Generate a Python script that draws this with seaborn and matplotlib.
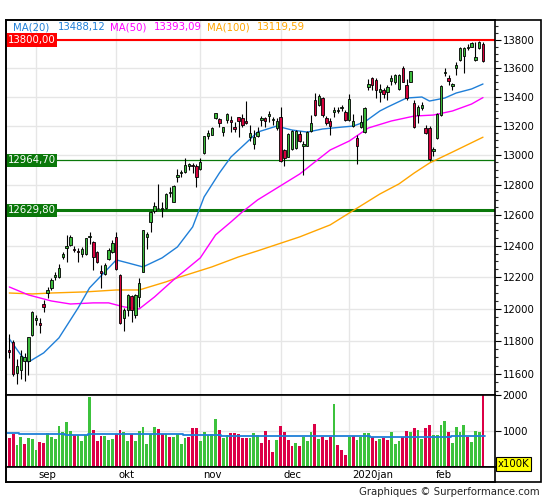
import numpy as np
import pandas as pd
import matplotlib
matplotlib.use("Agg")
import matplotlib.pyplot as plt
import matplotlib.transforms as mtransforms
from matplotlib.patches import Rectangle
from matplotlib.ticker import FixedLocator, NullFormatter, FuncFormatter
import seaborn as sns

# ---------------- data ----------------
opens = [11745, 11794, 11605, 11627, 11680, 11680, 11838, 11929, 11910, 12028,
         12102, 12133, 12199, 12200, 12330, 12388, 12405, 12379, 12368, 12346,
         12346, 12455, 12422, 12362, 12238, 12218, 12315, 12358, 12459, 12213,
         11945, 11993, 12083, 11962, 12073, 12234, 12457, 12556, 12628, 12643,
         12640, 12643, 12742, 12688, 12850, 12880, 12887, 12925, 12934, 12928,
         12902, 13010, 13128, 13137, 13249, 13243, 13157, 13238, 13238, 13192,
         13256, 13249, 13231, 13119, 13074, 13131, 13238, 13254, 13268, 13238,
         13180, 13258, 13033, 12988, 13040, 13044, 13144, 13062, 13062, 13162,
         13376, 13341, 13392, 13254, 13231, 13295, 13300, 13318, 13291, 13238,
         13199, 13112, 13192, 13153, 13465, 13528, 13516, 13430, 13446, 13430,
         13509, 13504, 13454, 13604, 13480, 13504, 13355, 13274, 13318, 13180,
         13185, 13027, 13112, 13272, 13565, 13530, 13475, 13599, 13657, 13688,
         13742, 13752, 13657, 13740, 13769]
highs = [11842, 11808, 11690, 11746, 11726, 11826, 11985, 11962, 11945, 12056,
         12137, 12192, 12234, 12281, 12362, 12470, 12470, 12397, 12388, 12392,
         12453, 12487, 12431, 12365, 12277, 12288, 12384, 12438, 12491, 12217,
         12004, 12091, 12087, 12090, 12192, 12505, 12491, 12625, 12688, 12803,
         12688, 12742, 12782, 12798, 12902, 12898, 12976, 12947, 12947, 12938,
         12976, 13130, 13169, 13187, 13288, 13249, 13192, 13288, 13265, 13224,
         13260, 13279, 13371, 13203, 13169, 13192, 13267, 13260, 13300, 13260,
         13249, 13330, 13040, 13146, 13169, 13169, 13162, 13094, 13160, 13272,
         13423, 13416, 13395, 13267, 13249, 13330, 13330, 13341, 13307, 13416,
         13277, 13135, 13272, 13330, 13523, 13539, 13527, 13485, 13458, 13481,
         13551, 13556, 13556, 13612, 13520, 13581, 13376, 13341, 13360, 13206,
         13199, 13056, 13284, 13481, 13604, 13551, 13493, 13645, 13747, 13747,
         13769, 13788, 13783, 13793, 13788]
lows = [11696, 11590, 11539, 11571, 11560, 11595, 11834, 11900, 11852, 11982,
        12070, 12118, 12182, 12195, 12313, 12294, 12401, 12358, 12294, 12326,
        12340, 12411, 12245, 12290, 12129, 12213, 12309, 12352, 12245, 11904,
        11863, 11958, 11920, 11940, 12014, 12230, 12378, 12491, 12615, 12637,
        12589, 12637, 12721, 12685, 12820, 12850, 12880, 12898, 12880, 12782,
        12898, 13006, 13105, 13133, 13243, 13187, 13128, 13215, 13157, 13157,
        13123, 13192, 13208, 13096, 13038, 13124, 13199, 13192, 13226, 13203,
        13169, 12950, 12927, 12985, 13035, 13040, 13087, 12865, 13058, 13153,
        13267, 13336, 13260, 13203, 13135, 13260, 13284, 13300, 13231, 13231,
        13192, 12937, 13185, 13146, 13446, 13446, 13388, 13365, 13388, 13376,
        13481, 13486, 13446, 13500, 13376, 13500, 13185, 13215, 13307, 13140,
        12958, 12995, 13105, 13267, 13546, 13481, 13446, 13551, 13650, 13562,
        13728, 13747, 13650, 13735, 13645]
closes = [11733, 11599, 11649, 11712, 11702, 11824, 11979, 11941, 11900, 12012,
          12116, 12182, 12213, 12256, 12345, 12400, 12457, 12373, 12358, 12379,
          12449, 12460, 12330, 12294, 12224, 12277, 12373, 12416, 12251, 11910,
          11993, 12087, 11993, 12087, 12160, 12502, 12476, 12622, 12659, 12646,
          12644, 12738, 12754, 12791, 12865, 12886, 12932, 12938, 12925, 12854,
          12953, 13128, 13146, 13180, 13284, 13220, 13192, 13279, 13222, 13174,
          13233, 13203, 13215, 13151, 13124, 13157, 13254, 13231, 13276, 13245,
          13231, 12958, 12981, 13140, 13162, 13162, 13094, 13071, 13153, 13215,
          13272, 13406, 13272, 13215, 13199, 13307, 13302, 13330, 13238, 13383,
          13231, 13060, 13226, 13318, 13486, 13481, 13446, 13453, 13416, 13470,
          13530, 13548, 13548, 13504, 13390, 13576, 13192, 13326, 13341, 13146,
          12972, 13040, 13277, 13477, 13572, 13509, 13486, 13622, 13742, 13742,
          13752, 13776, 13680, 13788, 13650]
volumes = [806, 926, 611, 833, 639, 806, 778, 472, 694, 667,
           944, 833, 778, 1139, 972, 1250, 1000, 880, 880, 722,
           880, 1944, 1028, 722, 861, 861, 750, 778, 907, 1028,
           972, 722, 907, 722, 1000, 1111, 639, 907, 1111, 1056,
           907, 907, 833, 833, 907, 639, 806, 833, 1083, 1083,
           722, 972, 880, 917, 1333, 1028, 806, 889, 944, 944,
           917, 806, 806, 806, 944, 880, 667, 1000, 750, 417,
           750, 1139, 972, 750, 583, 667, 583, 833, 722, 972,
           1194, 778, 833, 750, 833, 1750, 611, 472, 333, 833,
           861, 750, 833, 944, 944, 833, 722, 778, 806, 750,
           972, 639, 722, 833, 1000, 972, 1083, 1028, 778, 1083,
           1167, 889, 889, 1167, 1278, 972, 667, 1111, 972, 1167,
           833, 694, 1000, 972, 2050]
vol_up = [0, 0, 1, 1, 0, 1, 1, 1, 0, 0,
          1, 1, 1, 1, 1, 1, 1, 0, 1, 1,
          1, 1, 0, 0, 0, 1, 1, 1, 0, 0,
          1, 1, 0, 1, 1, 1, 1, 1, 1, 0,
          0, 1, 0, 1, 1, 1, 1, 0, 0, 0,
          1, 1, 1, 1, 1, 0, 1, 1, 0, 0,
          0, 0, 0, 1, 1, 1, 0, 0, 0, 0,
          1, 0, 0, 0, 0, 1, 0, 1, 1, 1,
          0, 1, 0, 0, 0, 1, 0, 0, 0, 1,
          0, 1, 1, 1, 1, 0, 0, 1, 0, 0,
          1, 1, 1, 0, 0, 1, 0, 1, 1, 0,
          0, 1, 1, 1, 1, 0, 1, 1, 1, 1,
          0, 1, 1, 1, 0]

ma20_idx = [0, 3, 5, 9, 13, 18, 21, 25, 28, 31, 35, 40, 44, 48, 51, 55, 58, 62,
            65, 70, 74, 78, 82, 87, 90, 93, 97, 99, 104, 108, 110, 114, 117, 121, 124]
ma20_val = [11814, 11716, 11672, 11728, 11820, 12005, 12131, 12232, 12309, 12290,
            12264, 12322, 12392, 12522, 12719, 12878, 12985, 13081, 13155, 13196,
            13169, 13155, 13176, 13189, 13196, 13224, 13300, 13327, 13390, 13397,
            13369, 13390, 13425, 13453, 13488]
ma50_idx = [0, 5, 11, 16, 22, 26, 30, 34, 38, 43, 50, 54, 58, 61, 65, 76, 80, 84,
            89, 94, 100, 106, 111, 116, 121, 124]
ma50_val = [12137, 12087, 12049, 12030, 12037, 12037, 12012, 11999, 12074, 12182,
            12322, 12470, 12554, 12620, 12699, 12871, 12952, 13033, 13094, 13183,
            13231, 13265, 13272, 13300, 13348, 13393]
ma100_idx = [0, 6, 11, 20, 28, 34, 41, 44, 53, 60, 65, 76, 84, 89, 97, 102, 106,
             110, 116, 124]
ma100_val = [12099, 12093, 12099, 12106, 12118, 12118, 12169, 12195, 12264, 12328,
             12367, 12457, 12535, 12613, 12738, 12805, 12878, 12945, 13019, 13120]

vol_ma_breaks = [0, 3, 15, 21, 46, 56, 75, 95, 116, 125]
vol_ma_levels = [935, 907, 880, 907, 880, 870, 861, 833, 861]

month_idx = [7, 28, 50, 71, 89, 111]
month_labels = ["sep", "okt", "nov", "dec", "2020jan", "feb"]
price_ticks = [11600, 11800, 12000, 12200, 12400, 12600, 12800,
               13000, 13200, 13400, 13600, 13800]
vol_ticks = [1000, 2000]
level_values = [13800.00, 12964.70, 12629.80]
legend_names = ["MA(20)", "MA(50)", "MA(100)"]
legend_values = ["13488,12", "13393,09", "13119,59"]

# ---------------- style ----------------
sns.set_style("white")
plt.rcParams["font.family"] = ["DejaVu Sans"]
FS = 7.3
GREEN = "#3cba3c"
RED = "#d6003c"
VGREEN = "#3cc23c"
VRED = "#dc0046"
BLUE = "#1f7fd8"
MAGENTA = "#ff00ff"
ORANGE = "#ffa500"
DKGREEN = "#0a780a"
GRID = "#e6e6e6"

W, H = 545, 500
fig = plt.figure(figsize=(W / 100, H / 100), dpi=100)


def fx(px):
    return px / W


def fy(py):
    return 1 - py / H


L, R = 6, 495
X0 = 9.3
DX = 3.82
xlim = ((L - X0) / DX, (R - X0) / DX)

ax = fig.add_axes([fx(L), fy(395), (R - L) / W, (395 - 19.5) / H])
axv = fig.add_axes([fx(L), fy(467), (R - L) / W, (467 - 395) / H])
axs = fig.add_axes([fx(L), fy(482), (R - L) / W, (482 - 467) / H])

n = len(closes)
idx = np.arange(n)
o = np.array(opens, float)
c = np.array(closes, float)
h = np.array(highs, float)
lo = np.array(lows, float)

# ---------------- price panel ----------------
ax.set_yscale("log")
for m in month_idx:
    ax.axvline(m, color=GRID, lw=1, zorder=0)
ax.grid(True, axis="y", which="major", color=GRID, lw=1)
ax.set_axisbelow(True)

ax.axhline(level_values[0], color="#ff0000", lw=1.5, zorder=2)
ax.axhline(level_values[1], color=DKGREEN, lw=0.9, zorder=2)
ax.axhline(level_values[2], color=DKGREEN, lw=2.2, zorder=2)

sns.lineplot(x=ma100_idx, y=ma100_val, ax=ax, color=ORANGE, lw=1.0, zorder=2.5)
sns.lineplot(x=ma50_idx, y=ma50_val, ax=ax, color=MAGENTA, lw=1.0, zorder=2.5)
sns.lineplot(x=ma20_idx, y=ma20_val, ax=ax, color=BLUE, lw=1.0, zorder=2.5)

ax.vlines(idx, lo, h, color="black", lw=0.8, zorder=3)
body_lo = np.minimum(o, c)
body_h = np.maximum(np.abs(c - o), 4)
ax.bar(idx, body_h, bottom=body_lo, width=0.62,
       color=np.where(c >= o, GREEN, RED), edgecolor="black",
       linewidth=0.6, zorder=4)

ax.set_xlim(*xlim)
ax.set_ylim(11474, 13948)
ax.yaxis.set_major_locator(FixedLocator(price_ticks))
ax.yaxis.set_major_formatter(FuncFormatter(lambda v, p: f"{v:.0f}"))
ax.yaxis.set_minor_locator(FixedLocator(list(range(11500, 13951, 50))))
ax.yaxis.set_minor_formatter(NullFormatter())
ax.yaxis.tick_right()
ax.tick_params(axis="y", which="major", right=True, length=4, width=0.8,
               labelsize=FS, pad=1.5, direction="out", colors="black")
ax.tick_params(axis="y", which="minor", right=True, length=2.5, width=0.8,
               direction="out")
ax.tick_params(axis="x", bottom=False, labelbottom=False)
ax.set_xlabel("")
ax.set_ylabel("")

trans = mtransforms.blended_transform_factory(ax.transAxes, ax.transData)
box_colors = ["#ff0000", DKGREEN, DKGREEN]
for val, bc in zip(level_values, box_colors):
    ax.text(1.6 / (R - L), val, f"{val:.2f}".replace(".", ","), transform=trans,
            ha="left", va="center", color="white", fontsize=FS, zorder=6,
            bbox=dict(boxstyle="square,pad=0.15", fc=bc, ec="none"))

# ---------------- volume panel ----------------
for m in month_idx:
    axv.axvline(m, color=GRID, lw=1, zorder=0)
axv.grid(True, axis="y", which="major", color=GRID, lw=1)
axv.set_axisbelow(True)
vdf = pd.DataFrame({"i": idx, "v": volumes,
                    "dir": ["up" if u else "down" for u in vol_up]})
sns.barplot(data=vdf, x="i", y="v", hue="dir", palette={"up": VGREEN, "down": VRED},
            native_scale=True, dodge=False, width=0.74, saturation=1,
            legend=False, ax=axv, linewidth=0, zorder=2)
step_x = [b - 0.5 for b in vol_ma_breaks]
step_y = vol_ma_levels + [vol_ma_levels[-1]]
sns.lineplot(x=step_x, y=step_y, ax=axv, color=BLUE, lw=1.3,
             drawstyle="steps-post", zorder=3)
axv.set_xlim(*xlim)
axv.set_ylim(0, 2000)
axv.yaxis.set_major_locator(FixedLocator(vol_ticks))
axv.yaxis.set_major_formatter(FuncFormatter(lambda v, p: f"{v:.0f}"))
axv.yaxis.tick_right()
axv.tick_params(axis="y", which="major", right=True, length=4, width=0.8,
                labelsize=FS, pad=1.5, direction="out", colors="black")
axv.tick_params(axis="x", bottom=False, labelbottom=False)
axv.set_xlabel("")
axv.set_ylabel("")

# ---------------- month strip ----------------
axs.set_xlim(*xlim)
axs.set_ylim(0, 1)
axs.set_xticks([])
axs.set_yticks([])
for m, lab in zip(month_idx, month_labels):
    axs.text(m + 0.65, 0.45, lab, ha="left", va="center", fontsize=FS, color="black")

for a in (ax, axv, axs):
    for s in a.spines.values():
        s.set_color("black")
        s.set_linewidth(1.2)

# outer frame
fig.add_artist(Rectangle((fx(6), fy(482)), (541 - 6) / W, (482 - 19.5) / H,
                         transform=fig.transFigure, fill=False, ec="black", lw=1.2))

# legend line
leg_x = [(13, 58), (110, 154), (207, 257)]
for (xn, xv), name, val, col in zip(leg_x, legend_names, legend_values,
                                    [BLUE, MAGENTA, ORANGE]):
    fig.text(fx(xn), fy(27), name, color=col, fontsize=FS, ha="left", va="center")
    fig.text(fx(xv), fy(27), val, color=col, fontsize=FS, ha="left", va="center")

fig.text(fx(498), fy(464), "x100K", fontsize=FS, ha="left", va="center", color="black",
         bbox=dict(boxstyle="square,pad=0.15", fc="#ffff00", ec="black", lw=0.8))
fig.text(fx(540), fy(492), "Graphiques \u00a9 Surperformance.com", fontsize=FS,
         ha="right", va="center", color="#222222")

fig.savefig("out.png", dpi=100)
